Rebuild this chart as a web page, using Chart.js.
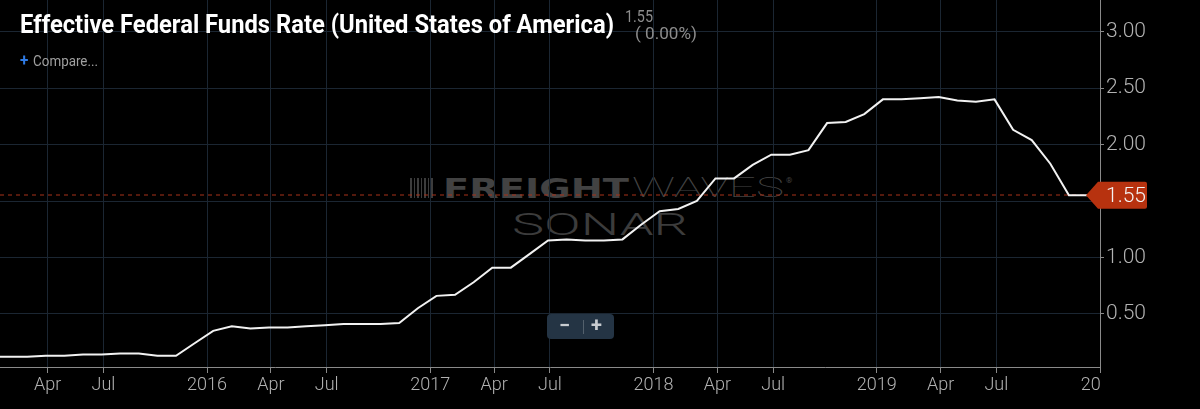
<!DOCTYPE html>
<html lang="en">

<head>
    <meta charset="UTF-8">
    <title>Effective Federal Funds Rate</title>
    <script src="https://cdnjs.cloudflare.com/ajax/libs/Chart.js/4.4.1/chart.umd.min.js"></script>
    <style>
        html, body {
            margin: 0;
            padding: 0;
            background: #000;
            width: 1200px;
            height: 409px;
            overflow: hidden;
        }

        .wrap {
            position: relative;
            width: 1200px;
            height: 409px;
        }

        #rateChart {
            position: absolute;
            left: 0;
            top: 0;
            z-index: 1;
        }

        .fit {
            position: absolute;
            white-space: nowrap;
            display: inline-block;
            transform-origin: left top;
        }

        .watermark { z-index: 0; }
        .overlay { z-index: 2; }

        #title {
            left: 20px;
            top: 12px;
            font: bold 25px/25px Roboto, sans-serif;
            color: #fff;
        }

        #lastValue {
            left: 625px;
            top: 8px;
            font: 17px/17px Roboto, sans-serif;
            color: #8c8c8c;
        }

        #lastChange {
            left: 635px;
            top: 25px;
            font: 17px/17px Roboto, sans-serif;
            color: #8c8c8c;
        }

        #compare {
            left: 20px;
            top: 54px;
            font: 14px/14px Roboto, sans-serif;
            color: #a0a0a0;
        }

        #compare b {
            color: #2f7be5;
            font-size: 16px;
            margin-right: 5px;
        }

        #logo {
            position: absolute;
            left: 410px;
            top: 178px;
            width: 25px;
            height: 20px;
            background: repeating-linear-gradient(90deg, #3c3c3c 0 2px, transparent 2px 4px, #3c3c3c 4px 5px, transparent 5px 7px);
        }

        #wmFreight {
            left: 443px;
            top: 175px;
            font: bold 27px/27px "DejaVu Sans", sans-serif;
            color: #424242;
        }

        #wmWaves {
            left: 632px;
            top: 174px;
            font: 100 28px/28px Roboto, sans-serif;
            color: #444;
        }

        #wmReg {
            left: 786px;
            top: 177px;
            font: 8px/8px Roboto, sans-serif;
            color: #444;
        }

        #wmSonar {
            left: 512px;
            top: 208px;
            font: 300 32px/32px Roboto, sans-serif;
            color: #3c3c3c;
        }

        #zoomButtons {
            position: absolute;
            left: 547px;
            top: 314px;
            width: 67px;
            height: 25px;
            background: #243444;
            border-radius: 4px;
            z-index: 2;
            font: bold 20px/25px Roboto, sans-serif;
            color: #c8ccd0;
        }

        #zoomButtons span {
            position: absolute;
            top: -1px;
        }

        #zoomButtons i {
            position: absolute;
            left: 36px;
            top: 6px;
            width: 1px;
            height: 14px;
            background: #53606c;
        }
    </style>
</head>

<body>
    <div class="wrap">
        <div id="logo" class="watermark"></div>
        <div id="wmFreight" class="fit watermark">FREIGHT</div>
        <div id="wmWaves" class="fit watermark">WAVES</div>
        <div id="wmReg" class="fit watermark">®</div>
        <div id="wmSonar" class="fit watermark">SONAR</div>

        <canvas id="rateChart" width="1200" height="409"></canvas>

        <div id="title" class="fit overlay">Effective Federal Funds Rate (United States of America)</div>
        <div id="lastValue" class="fit overlay">1.55</div>
        <div id="lastChange" class="fit overlay">( 0.00%)</div>
        <div id="compare" class="fit overlay"><b>+</b>Compare...</div>
        <div id="zoomButtons"><span style="left:12px">−</span><i></i><span style="left:44px">+</span></div>
    </div>

    <script>
        // Monthly effective federal funds rate
        const years = [2015, 2016, 2017, 2018, 2019];
        const rates2015 = [0.12, 0.12, 0.12, 0.13, 0.13, 0.14, 0.14, 0.15, 0.15, 0.13, 0.13, 0.24];
        const rates2016 = [0.35, 0.39, 0.37, 0.38, 0.38, 0.39, 0.40, 0.41, 0.41, 0.41, 0.42, 0.55];
        const rates2017 = [0.66, 0.67, 0.78, 0.91, 0.91, 1.03, 1.15, 1.16, 1.15, 1.15, 1.16, 1.29];
        const rates2018 = [1.41, 1.43, 1.50, 1.70, 1.70, 1.82, 1.91, 1.91, 1.95, 2.19, 2.20, 2.27];
        const rates2019 = [2.40, 2.40, 2.41, 2.42, 2.39, 2.38, 2.40, 2.13, 2.04, 1.83, 1.55, 1.55];

        // x axis ticks, in months since Jan 2015
        const tickLabels = ['Apr', 'Jul', '2016', 'Apr', 'Jul', '2017', 'Apr', 'Jul', '2018', 'Apr', 'Jul', '2019', 'Apr', 'Jul', '20\u2002\u2002'];
        const tickMonths = [3.1, 6.1, 11.67, 15.1, 18.1, 23.67, 27.1, 30.1, 35.67, 39.1, 42.1, 47.67, 51.1, 54.1, 59.67];

        const X_MIN = 0.54;
        const X_MAX = 59.67;
        const Y_MIN = 0.03;
        const Y_MAX = 3.28;

        const GRID = '#1b2632';
        const AXIS = '#8a8a8a';
        const LABEL = '#b2b2b2';

        // build points: one per month
        const allRates = [rates2015, rates2016, rates2017, rates2018, rates2019];
        const points = [];
        years.forEach((yr, yi) => {
            allRates[yi].forEach((v, m) => points.push({ x: yi * 12 + m, y: v }));
        });
        const lastRate = points[points.length - 1].y;

        // dashed last-value line + price tag on the axis
        const lastValuePlugin = {
            id: 'lastValue',
            beforeDatasetsDraw(chart) {
                const { ctx, chartArea } = chart;
                const y = Math.round(chart.scales.y.getPixelForValue(lastRate));
                ctx.save();
                ctx.strokeStyle = '#a8321a';
                ctx.lineWidth = 1;
                ctx.setLineDash([4, 4]);
                ctx.beginPath();
                ctx.moveTo(chartArea.left, y);
                ctx.lineTo(chartArea.right, y);
                ctx.stroke();
                ctx.restore();
            },
            afterDraw(chart) {
                const { ctx, chartArea } = chart;
                const y = chart.scales.y.getPixelForValue(lastRate);
                const tip = chartArea.right - 14;
                const left = chartArea.right - 2;
                const right = chartArea.right + 47;
                const h = 13.5;
                ctx.save();
                ctx.fillStyle = '#b7320f';
                ctx.beginPath();
                ctx.moveTo(tip, y);
                ctx.lineTo(left, y - h);
                ctx.lineTo(right - 2, y - h);
                ctx.quadraticCurveTo(right, y - h, right, y - h + 2);
                ctx.lineTo(right, y + h - 2);
                ctx.quadraticCurveTo(right, y + h, right - 2, y + h);
                ctx.lineTo(left, y + h);
                ctx.closePath();
                ctx.fill();
                ctx.fillStyle = '#f4f4f4';
                ctx.font = '300 21px Roboto';
                ctx.textAlign = 'left';
                ctx.textBaseline = 'middle';
                ctx.fillText(lastRate.toFixed(2), chartArea.right + 6, y + 1);
                ctx.restore();
            }
        };

        function fitWidth(id, w) {
            const el = document.getElementById(id);
            const r = el.getBoundingClientRect().width;
            el.style.transform = `scaleX(${w / r})`;
        }

        // axes fill the canvas edge to edge, like the original
        function noPadding(scale) {
            scale.paddingTop = 0;
            scale.paddingBottom = 0;
            scale.paddingLeft = 0;
            scale.paddingRight = 0;
        }

        document.fonts.ready.then(() => {
            fitWidth('title', 594);
            fitWidth('lastValue', 28);
            fitWidth('lastChange', 62);
            fitWidth('compare', 78);
            fitWidth('wmFreight', 186);
            fitWidth('wmWaves', 152);
            fitWidth('wmSonar', 176);

            Chart.defaults.font.family = 'Roboto';

            new Chart(document.getElementById('rateChart'), {
                type: 'line',
                data: {
                    datasets: [{
                        label: 'Effective Federal Funds Rate',
                        data: points,
                        borderColor: '#f2f2f2',
                        borderWidth: 2,
                        pointRadius: 0,
                        tension: 0,
                        fill: false
                    }]
                },
                options: {
                    responsive: false,
                    animation: false,
                    layout: { padding: 0 },
                    plugins: {
                        legend: { display: false },
                        tooltip: { enabled: false }
                    },
                    scales: {
                        x: {
                            type: 'linear',
                            position: 'bottom',
                            min: X_MIN,
                            max: X_MAX,
                            afterBuildTicks(scale) {
                                scale.ticks = tickMonths.map(v => ({ value: v }));
                            },
                            afterFit(scale) {
                                scale.height = 42;
                                noPadding(scale);
                            },
                            grid: {
                                color: GRID,
                                tickColor: AXIS,
                                tickLength: 6
                            },
                            border: { color: AXIS, width: 1 },
                            ticks: {
                                autoSkip: false,
                                maxRotation: 0,
                                color: LABEL,
                                padding: 2,
                                font: { size: 18, weight: 300 },
                                callback: (value) => {
                                    const i = tickMonths.indexOf(value);
                                    return i >= 0 ? tickLabels[i] : '';
                                }
                            }
                        },
                        y: {
                            position: 'right',
                            min: Y_MIN,
                            max: Y_MAX,
                            afterFit(scale) {
                                scale.width = 100;
                                noPadding(scale);
                            },
                            grid: {
                                color: GRID,
                                tickColor: AXIS,
                                tickLength: 4
                            },
                            border: { color: AXIS, width: 1 },
                            ticks: {
                                stepSize: 0.5,
                                includeBounds: false,
                                color: LABEL,
                                padding: 2,
                                font: { size: 21, weight: 300 },
                                callback: (value) => value.toFixed(2)
                            }
                        }
                    }
                },
                plugins: [lastValuePlugin]
            });
        });
    </script>
</body>

</html>
